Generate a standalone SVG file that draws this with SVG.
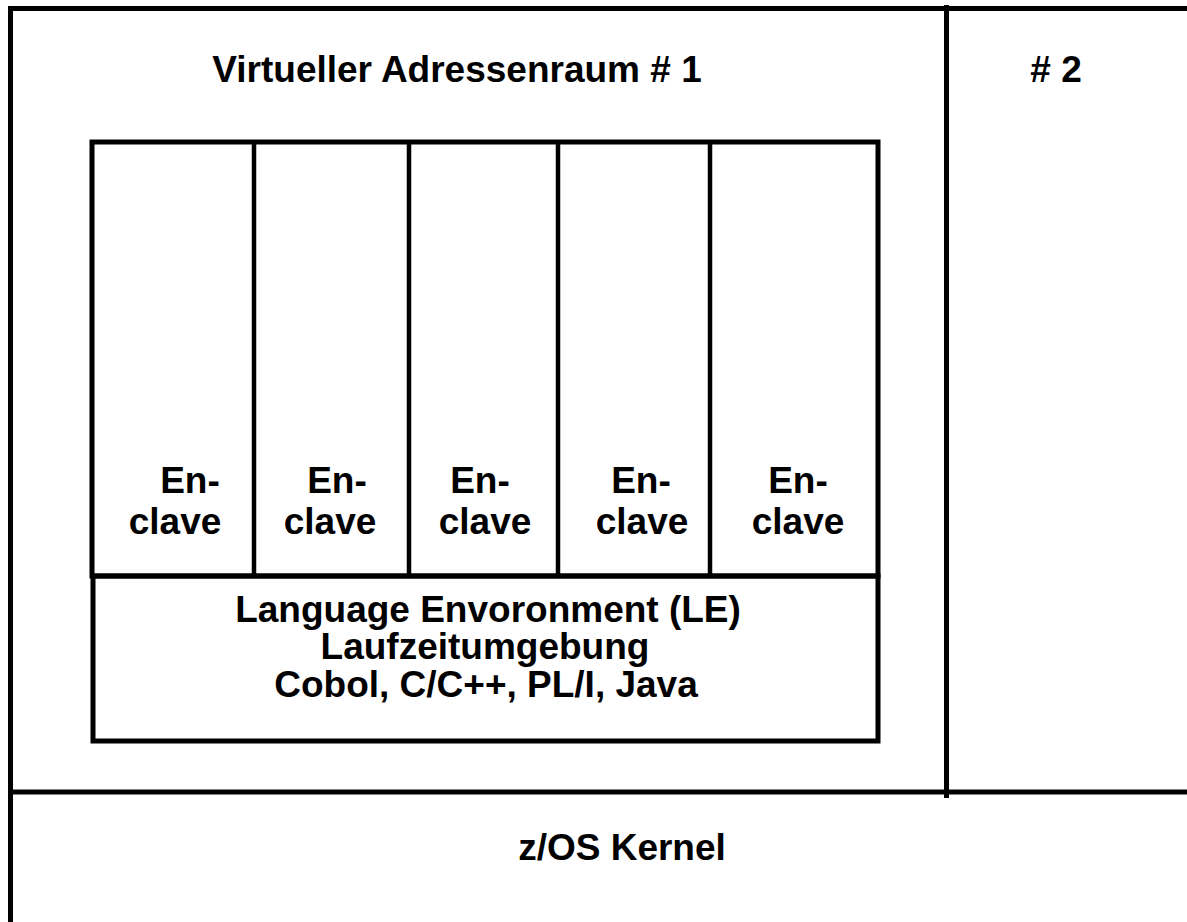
<svg xmlns="http://www.w3.org/2000/svg" width="1187" height="922" viewBox="0 0 1187 922">
<style>
.ln{fill:none;stroke:#000;stroke-width:5}
.dv{fill:none;stroke:#000;stroke-width:4.5}
.t{font-family:"Liberation Sans",Arial,sans-serif;font-weight:bold;font-size:37px;fill:#000;text-anchor:middle}
</style>
<rect width="1187" height="922" fill="#fff"/>
<g id="frame">
<path class="ln" d="M10.5,922 V8.5 H1187"/>
<path class="ln" d="M10.5,792 H1187"/>
<path class="ln" d="M946.5,5 V798"/>
</g>
<g id="vas1">
<text class="t" x="457" y="82">Virtueller Adressenraum # 1</text>
</g>
<g id="vas2">
<text class="t" x="1056" y="82"># 2</text>
</g>
<g id="kernel">
<text class="t" x="622" y="860">z/OS Kernel</text>
</g>
<g id="enclaves">
<rect class="ln" x="92" y="142" width="786" height="434"/>
<path class="dv" d="M254,142 V576 M409,142 V576 M558,142 V576 M710,142 V576"/>
</g>
<g id="enclave1"><text class="t" x="190" y="493">En-</text><text class="t" x="175" y="534">clave</text></g>
<g id="enclave2"><text class="t" x="337" y="493">En-</text><text class="t" x="330" y="534">clave</text></g>
<g id="enclave3"><text class="t" x="480" y="493">En-</text><text class="t" x="485" y="534">clave</text></g>
<g id="enclave4"><text class="t" x="641" y="493">En-</text><text class="t" x="642" y="534">clave</text></g>
<g id="enclave5"><text class="t" x="798" y="493">En-</text><text class="t" x="798" y="534">clave</text></g>
<g id="le">
<rect class="ln" x="93" y="576" width="785" height="165"/>
<text class="t" x="488" y="622">Language Envoronment (LE)</text>
<text class="t" x="485" y="659">Laufzeitumgebung</text>
<text class="t" x="486" y="697">Cobol, C/C++, PL/I, Java</text>
</g>
</svg>
